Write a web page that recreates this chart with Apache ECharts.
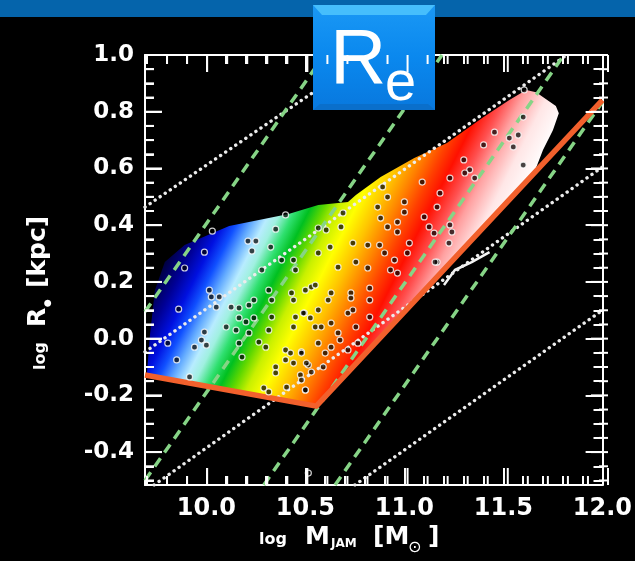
<!DOCTYPE html>
<html>
<head>
<meta charset="utf-8">
<script src="https://cdn.jsdelivr.net/npm/echarts@6/dist/echarts.min.js"></script>
<style>
  html, body { margin: 0; padding: 0; background: #000; }
  #chart { width: 635px; height: 561px; }
</style>
</head>
<body>
<div id="chart"></div>
<script>
// ---- axis extents and tick labels ----
const xRange = [9.69, 12.0];
const yRange = [-0.516, 1.0];
const xTickLabels = [10.0, 10.5, 11.0, 11.5, 12.0];
const yTickLabels = [-0.4, -0.2, 0.0, 0.2, 0.4, 0.6, 0.8, 1.0];

// ---- galaxies: [log M_JAM, log R_e] ----
const galaxies = [
  [10.03,0.379],[9.99,0.305],[9.89,0.249],[10.21,0.344],[10.25,0.344],[10.23,0.309],[10.35,0.386],[10.40,0.436],
  [10.325,0.323],[10.015,0.171],[10.025,0.147],[10.065,0.147],[10.05,0.111],[9.86,0.104],[10.125,0.111],[10.165,0.108],
  [10.215,0.118],[10.24,0.136],[10.315,0.171],[10.33,0.136],[10.165,0.073],[10.20,0.059],[10.24,0.073],[10.10,0.041],
  [10.15,0.030],[10.215,0.020],[10.315,0.030],[10.33,0.076],[10.44,0.277],[10.45,0.242],[10.43,0.161],[10.44,0.136],
  [10.50,0.171],[10.53,0.182],[10.45,0.076],[10.495,0.090],[10.44,0.041],[9.99,0.023],[9.975,-0.005],[9.94,-0.030],
  [10.00,-0.023],[9.805,-0.016],[9.85,-0.075],[9.915,-0.135],[10.165,-0.016],[10.265,-0.012],[10.30,-0.030],[10.18,-0.065],
  [10.40,-0.040],[10.425,-0.051],[10.48,-0.047],[10.40,-0.075],[10.44,-0.086],[10.515,-0.093],[10.35,-0.100],[10.35,-0.121],
  [10.29,-0.174],[10.315,-0.188],[10.475,-0.128],[10.53,-0.118],[10.50,-0.181],[10.405,-0.171],[10.38,0.277],[10.28,0.242],
  [11.605,0.877],[11.60,0.781],[11.575,0.718],[11.53,0.707],[11.55,0.676],[11.455,0.728],[11.40,0.683],[11.60,0.612],
  [11.30,0.630],[11.33,0.595],[11.305,0.584],[11.355,0.566],[11.23,0.566],[11.18,0.513],[11.09,0.552],[11.165,0.464],
  [11.00,0.482],[10.915,0.499],[10.865,0.464],[11.00,0.446],[10.965,0.411],[11.10,0.429],[11.125,0.394],[11.15,0.372],
  [11.23,0.401],[11.24,0.376],[11.225,0.337],[11.165,0.270],[10.88,0.425],[10.915,0.394],[10.965,0.376],[11.025,0.337],
  [11.015,0.302],[10.875,0.330],[10.815,0.330],[10.74,0.337],[10.90,0.302],[10.95,0.277],[10.93,0.242],[10.965,0.231],
  [10.815,0.249],[10.755,0.270],[10.665,0.252],[10.565,0.302],[10.625,0.323],[10.69,0.443],[10.68,0.394],[10.605,0.383],
  [10.565,0.390],[10.825,0.178],[10.825,0.136],[10.73,0.161],[10.73,0.143],[10.63,0.161],[10.55,0.189],[10.615,0.136],
  [10.565,0.101],[10.49,0.090],[10.525,0.073],[10.55,0.041],[10.58,0.041],[10.63,0.055],[10.665,0.020],[10.715,0.090],
  [10.74,0.101],[10.755,0.041],[10.825,0.076],[10.765,-0.016],[10.715,-0.040],[10.675,-0.005],[10.63,-0.030],[10.565,-0.016],
  [10.60,-0.051],[10.59,-0.100],[10.505,-0.086],[10.48,-0.051],[10.48,-0.146],[10.50,-0.181],[10.89,0.535],[11.155,0.270],
  [10.515,-0.474]
];

// ---- outline of the smoothed colour map ----
const mapOutline = [
  [9.70,-0.121],[9.715,0.013],[9.74,0.171],[9.79,0.270],[9.89,0.330],[10.115,0.397],[10.415,0.439],[10.565,0.471],
  [10.715,0.482],[10.755,0.506],[10.88,0.570],[11.05,0.637],[11.215,0.690],[11.40,0.781],[11.53,0.841],[11.615,0.877],
  [11.665,0.869],[11.765,0.820],[11.78,0.795],[11.75,0.735],[11.70,0.665],[11.655,0.584],[10.555,-0.238],[9.70,-0.128]
];
// light fringe spilling past the exclusion line
const mapFringe = [[11.20,0.189],[11.255,0.242],[11.34,0.270],[11.43,0.305]];

// ---- zone of exclusion ----
const zoeLine = [[9.69,-0.128],[10.555,-0.238],[12.0,0.841]];

// ---- constant surface density (dotted) ----
const densityLines = [
  [[9.69,0.464],[10.816,1.0]],
  [[9.69,-0.047],[11.82,1.0]],
  [[9.736,-0.516],[12.0,0.605]],
  [[10.75,-0.516],[12.0,0.100]]
];
// ---- constant velocity dispersion (dashed) ----
const dispersionLines = [
  [[9.69,0.095],[10.595,1.0]],
  [[9.69,-0.50],[11.19,1.0]],
  [[10.29,-0.516],[11.806,1.0]],
  [[10.65,-0.516],[12.0,0.834]]
];

// colour ramp of the map, laid out along a fixed direction
const shadeFrom = [9.715, 0.312];
const shadeTo = [11.115, -0.181];
const shadeStops = [
  [0.00,'#000010'],[0.06,'#000040'],[0.12,'#000095'],[0.17,'#0010e0'],[0.21,'#1050ff'],
  [0.25,'#60a8ff'],[0.29,'#b8ecff'],[0.32,'#a0f0e0'],[0.36,'#30e070'],[0.40,'#00c020'],
  [0.44,'#60d800'],[0.48,'#c8f000'],[0.53,'#ffff00'],[0.59,'#ffc400'],[0.645,'#ff8400'],
  [0.70,'#ff4000'],[0.745,'#ff1000'],[0.80,'#ff5050'],[0.85,'#ffa0a0'],[0.92,'#ffe6e6'],[1.00,'#ffffff']
];

// ---- plot frame geometry ----
const GRID = { left: 145, top: 55, width: 463, height: 430 };
const MAJOR_PX = 17, MINOR_PX = 9;

function minorTicks(from, to, step, majors) {
  const out = [];
  for (let v = from; v <= to + 1e-9; v += step) {
    const r = Math.round(v * 1000) / 1000;
    if (!majors.some(m => Math.abs(m - r) < 1e-6)) out.push(r);
  }
  return out;
}
const xMinor = minorTicks(9.7, 11.9, 0.1, xTickLabels);
const yMinor = minorTicks(-0.5, 0.95, 0.05, yTickLabels);

// linear value -> pixel maps of the two axes
const xToPx = v => GRID.left + (v - xRange[0]) / (xRange[1] - xRange[0]) * GRID.width;
const yToPx = v => GRID.top + (yRange[1] - v) / (yRange[1] - yRange[0]) * GRID.height;

// inward tick bars on all four sides of the frame
function tickBars() {
  const out = [];
  const yb = yToPx(yRange[0]), yt = yToPx(yRange[1]);
  const xl = xToPx(xRange[0]), xr = xToPx(xRange[1]);
  const addX = (v, len) => {
    const x = xToPx(v);
    out.push({ x: x - 1, y: yb - len, width: 2, height: len });
    out.push({ x: x - 1, y: yt, width: 2, height: len });
  };
  const addY = (v, len) => {
    const y = yToPx(v);
    out.push({ x: xl, y: y - 1, width: len, height: 2 });
    out.push({ x: xr - len, y: y - 1, width: len, height: 2 });
  };
  xTickLabels.forEach(v => addX(v, MAJOR_PX));
  xMinor.forEach(v => addX(v, MINOR_PX));
  yTickLabels.forEach(v => addY(v, MAJOR_PX));
  yMinor.forEach(v => addY(v, MINOR_PX));
  return out;
}
// same ticks as data-space segments
function tickSegments() {
  const dx = (xRange[1] - xRange[0]) / GRID.width;
  const dy = (yRange[1] - yRange[0]) / GRID.height;
  const segs = [];
  const addX = (v, px) => {
    segs.push({ coords: [[v, yRange[0]], [v, yRange[0] + px * dy]] });
    segs.push({ coords: [[v, yRange[1]], [v, yRange[1] - px * dy]] });
  };
  const addY = (v, px) => {
    segs.push({ coords: [[xRange[0], v], [xRange[0] + px * dx, v]] });
    segs.push({ coords: [[xRange[1], v], [xRange[1] - px * dx, v]] });
  };
  xTickLabels.forEach(v => addX(v, MAJOR_PX));
  xMinor.forEach(v => addX(v, MINOR_PX));
  yTickLabels.forEach(v => addY(v, MAJOR_PX));
  yMinor.forEach(v => addY(v, MINOR_PX));
  return segs;
}

const FONT = 'DejaVu Sans';
const white = '#ffffff';
const frameLine = { show: true, onZero: false, lineStyle: { color: white, width: 2 } };

function renderMap(params, api) {
  const pts = mapOutline.map(p => api.coord(p));
  const a = api.coord(shadeFrom), b = api.coord(shadeTo);
  return {
    type: 'polygon',
    shape: { points: pts },
    style: {
      fill: {
        type: 'linear', x: a[0], y: a[1], x2: b[0], y2: b[1], global: true,
        colorStops: shadeStops.map(s => ({ offset: s[0], color: s[1] }))
      },
      stroke: null
    }
  };
}

const series = [{
  type: 'lines', coordinateSystem: 'cartesian2d', data: tickSegments(), z: 8, silent: true,
  lineStyle: { color: '#fdfdfd', width: 2, opacity: 1 }
}, {
  type: 'custom', name: 'map', renderItem: renderMap, data: [mapOutline[0]],
  z: 1, clip: true, silent: true
}];
densityLines.forEach(seg => series.push({
  type: 'line', data: seg, symbol: 'none', z: 3, silent: true, clip: true,
  lineStyle: { color: '#ececec', width: 3.4, type: [0.1, 6], cap: 'round' }
}));
dispersionLines.forEach(seg => series.push({
  type: 'line', data: seg, symbol: 'none', z: 3, silent: true, clip: true,
  lineStyle: { color: '#86d486', width: 3.5, type: [10, 7] }
}));
series.push({
  type: 'line', data: mapFringe, symbol: 'none', z: 2, silent: true,
  lineStyle: { color: '#f4f4f4', width: 2.5 }
});
series.push({
  type: 'line', data: zoeLine, symbol: 'none', z: 4, silent: true,
  lineStyle: { color: '#f2602c', width: 5.5, join: 'round' }
});
series.push({
  type: 'scatter', data: galaxies, z: 5, symbol: 'circle', symbolSize: 6, silent: true,
  itemStyle: { color: 'rgba(0,0,0,0.9)', borderColor: '#ffffff', borderWidth: 1.2 }
});

const titleFont = (size, weight) => (weight || 'bold') + ' ' + size + 'px "' + FONT + '"';

const graphics = [
  // header band
  { type: 'rect', shape: { x: 0, y: 0, width: 635, height: 17 }, style: { fill: '#0564ab' }, z: 10 },
  // badge
  { type: 'rect', shape: { x: 313, y: 5, width: 122, height: 105 }, z: 11,
    style: { fill: { type: 'linear', x: 0, y: 0, x2: 0, y2: 1,
      colorStops: [{ offset: 0, color: '#1a98f5' }, { offset: 0.5, color: '#0a88ee' }, { offset: 1, color: '#0878de' }] } } },
  { type: 'polygon', shape: { points: [[313,5],[435,5],[426,15],[322,15]] }, style: { fill: '#46befc' }, z: 12 },
  { type: 'polygon', shape: { points: [[313,110],[435,110],[428,104],[320,104]] }, style: { fill: '#0a6fcb' }, z: 12 },
  { type: 'text', x: 330, y: 61, z: 13,
    style: { text: 'R', font: '78px "Liberation Sans"', fill: '#fff', align: 'left', verticalAlign: 'middle' } },
  { type: 'text', x: 385, y: 85, z: 13,
    style: { text: 'e', font: '56px "Liberation Sans"', fill: '#fff', align: 'left', verticalAlign: 'middle' } },
  // x-axis title
  { type: 'group', z: 10, children: [
    { type: 'text', x: 259, y: 540, style: { text: 'log', font: titleFont(16), fill: white, verticalAlign: 'middle' } },
    { type: 'text', x: 305, y: 537, style: { text: 'M', font: titleFont(25), fill: white, verticalAlign: 'middle' } },
    { type: 'text', x: 331, y: 544, style: { text: 'JAM', font: titleFont(12), fill: white, verticalAlign: 'middle' } },
    { type: 'text', x: 373, y: 537, style: { text: '[M', font: titleFont(25), fill: white, verticalAlign: 'middle' } },
    { type: 'text', x: 408, y: 548, style: { text: '\u2299', font: titleFont(16, 'normal'), fill: white, verticalAlign: 'middle' } },
    { type: 'text', x: 428, y: 537, style: { text: ']', font: titleFont(25), fill: white, verticalAlign: 'middle' } }
  ] },
  // y-axis title, reading upward
  { type: 'group', x: 38, y: 372, rotation: Math.PI / 2, z: 10, children: [
    { type: 'text', x: 2, y: 3, style: { text: 'log', font: titleFont(16), fill: white, verticalAlign: 'middle' } },
    { type: 'text', x: 45, y: 0, style: { text: 'R', font: titleFont(25), fill: white, verticalAlign: 'middle' } },
    { type: 'text', x: 65, y: 10, style: { text: '\u25CF', font: titleFont(9, 'normal'), fill: white, verticalAlign: 'middle' } },
    { type: 'text', x: 84, y: 0, style: { text: '[kpc]', font: titleFont(25), fill: white, verticalAlign: 'middle' } }
  ] }
].concat(tickBars().map(s => ({ type: 'rect', shape: s, style: { fill: '#fefefe' }, z: 14, silent: true })));

const option = {
  backgroundColor: '#000',
  animation: false,
  grid: { left: GRID.left, top: GRID.top, width: GRID.width, height: GRID.height, containLabel: false },
  xAxis: [
    { type: 'value', position: 'bottom', min: xRange[0], max: xRange[1], axisLine: frameLine,
      axisTick: { show: false }, splitLine: { show: false },
      axisLabel: { show: true, customValues: xTickLabels, formatter: v => Number(v).toFixed(1),
        color: white, fontFamily: FONT, fontWeight: 'bold', fontSize: 24, margin: 12 } },
    { type: 'value', position: 'top', min: xRange[0], max: xRange[1], axisLine: frameLine,
      axisTick: { show: false }, axisLabel: { show: false }, splitLine: { show: false } }
  ],
  yAxis: [
    { type: 'value', position: 'left', min: yRange[0], max: yRange[1], axisLine: frameLine,
      axisTick: { show: false }, splitLine: { show: false },
      axisLabel: { show: true, customValues: yTickLabels, formatter: v => Number(v).toFixed(1),
        color: white, fontFamily: FONT, fontWeight: 'bold', fontSize: 23, margin: 11 } },
    { type: 'value', position: 'right', min: yRange[0], max: yRange[1], axisLine: frameLine,
      axisTick: { show: false }, axisLabel: { show: false }, splitLine: { show: false } }
  ],
  series: series,
  graphic: graphics
};

const chart = echarts.init(document.getElementById('chart'), null, { renderer: 'canvas' });
chart.setOption(option);
</script>
</body>
</html>
